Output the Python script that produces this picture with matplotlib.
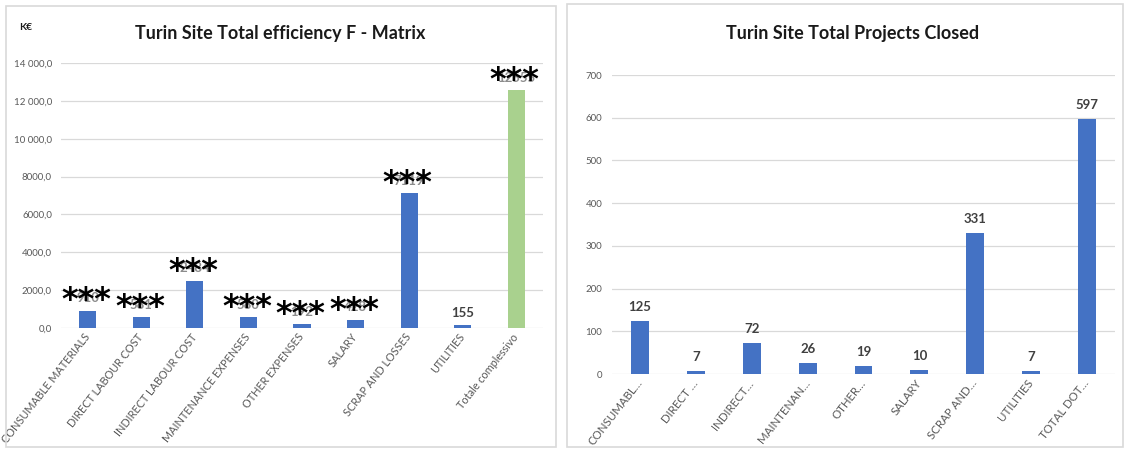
import matplotlib
matplotlib.use("Agg")
import matplotlib.pyplot as plt
from matplotlib.patches import Rectangle

# ---------------- data ----------------
left_categories = ["CONSUMABLE MATERIALS", "DIRECT LABOUR COST", "INDIRECT LABOUR COST",
                   "MAINTENANCE EXPENSES", "OTHER EXPENSES", "SALARY", "SCRAP AND LOSSES",
                   "UTILITIES", "Totale complessivo"]
left_values = [910, 581, 2484, 580, 192, 428, 7119, 155, 12555]
left_redacted = [True, True, True, True, True, True, True, False, True]
left_yticks = [0, 2000, 4000, 6000, 8000, 10000, 12000, 14000]
left_yticklabels = ["0,0", "2000,0", "4000,0", "6000,0", "8000,0", "10 000,0", "12 000,0", "14 000,0"]

right_categories = ["CONSUMABL…", "DIRECT …", "INDIRECT…", "MAINTENAN…", "OTHER…",
                    "SALARY", "SCRAP AND…", "UTILITIES", "TOTAL DOT…"]
right_values = [125, 7, 72, 26, 19, 10, 331, 7, 597]
right_yticks = [0, 100, 200, 300, 400, 500, 600, 700]

# ---------------- style ----------------
BLUE = "#4472C4"
GREEN = "#A9D18E"
GRID = "#D9D9D9"
TICK = "#595959"
LABEL = "#404040"
FONT = ["Lato", "DejaVu Sans"]
plt.rcParams["font.family"] = FONT

W, H = 1126, 450
fig = plt.figure(figsize=(W / 100, H / 100), dpi=100)
fig.patch.set_facecolor("white")


def px_axes(x0, y_top, x1, y_bottom):
    return fig.add_axes([x0 / W, (H - y_bottom) / H, (x1 - x0) / W, (y_bottom - y_top) / H])


def panel(x0, y_top, x1, y_bottom):
    fig.add_artist(Rectangle((x0 / W, (H - y_bottom) / H), (x1 - x0) / W, (y_bottom - y_top) / H,
                             transform=fig.transFigure, fill=False, edgecolor=GRID, lw=1.2))


def style_axes(ax, ymax, yticks, yticklabels, cats, ypad, xsize):
    ax.set_xlim(-0.5, len(cats) - 0.5)
    ax.set_ylim(0, ymax)
    ax.set_yticks(yticks)
    ax.set_yticklabels(yticklabels, fontsize=7, color=TICK)
    ax.yaxis.grid(True, color=GRID, lw=0.9)
    ax.set_axisbelow(True)
    for s in ax.spines.values():
        s.set_visible(False)
    ax.tick_params(axis="both", length=0)
    ax.tick_params(axis="y", pad=ypad)
    ax.set_xticks(range(len(cats)))
    ax.set_xticklabels(cats, rotation=52, ha="right", va="center", rotation_mode="anchor",
                       fontsize=xsize, color=TICK)
    ax.tick_params(axis="x", pad=5)
    ax.set_facecolor("none")


# ---------------- left panel ----------------
panel(6, 6, 556, 447)
axL = px_axes(61, 63, 543, 328)
xl = list(range(len(left_categories)))
colsL = [BLUE] * (len(left_values) - 1) + [GREEN]
axL.bar(xl, left_values, width=0.32, color=colsL, zorder=2)
style_axes(axL, 14000, left_yticks, left_yticklabels, left_categories, 6.5, 7.8)
for i, (v, red) in enumerate(zip(left_values, left_redacted)):
    axL.annotate(f"{v:.0f}", (i, v), xytext=(0, 9), textcoords="offset points",
                 ha="center", va="center", fontsize=9.5, fontweight="bold",
                 color=LABEL if not red else "#8C8C8C")
    if red:
        axL.annotate("***", (i, v), xytext=(-1, 1), textcoords="offset points",
                     ha="center", va="baseline", fontsize=23, color="black",
                     family="DejaVu Sans", fontweight="bold", zorder=5)

fig.text(280 / W, 1 - 33 / H, "Turin Site Total efficiency F - Matrix", ha="center", va="center",
         fontsize=13, fontweight="bold", color="#1a1a1a")
fig.text(19 / W, 1 - 27 / H, "K€", ha="left", va="center", fontsize=7.5, fontweight="bold",
         color="#1a1a1a")

# ---------------- right panel ----------------
panel(567, 4, 1123, 447)
axR = px_axes(612, 75, 1115, 374)
xr = list(range(len(right_categories)))
axR.bar(xr, right_values, width=0.32, color=BLUE, zorder=2)
style_axes(axR, 700, right_yticks, [str(t) for t in right_yticks], right_categories, 7, 8.3)
for i, v in enumerate(right_values):
    axR.annotate(f"{v}", (i, v), xytext=(0, 10), textcoords="offset points",
                 ha="center", va="center", fontsize=9.5, fontweight="bold", color=LABEL)

fig.text(853 / W, 1 - 33 / H, "Turin Site Total Projects Closed", ha="center", va="center",
         fontsize=13, fontweight="bold", color="#1a1a1a")

fig.savefig("out.png", dpi=100, facecolor="white")
